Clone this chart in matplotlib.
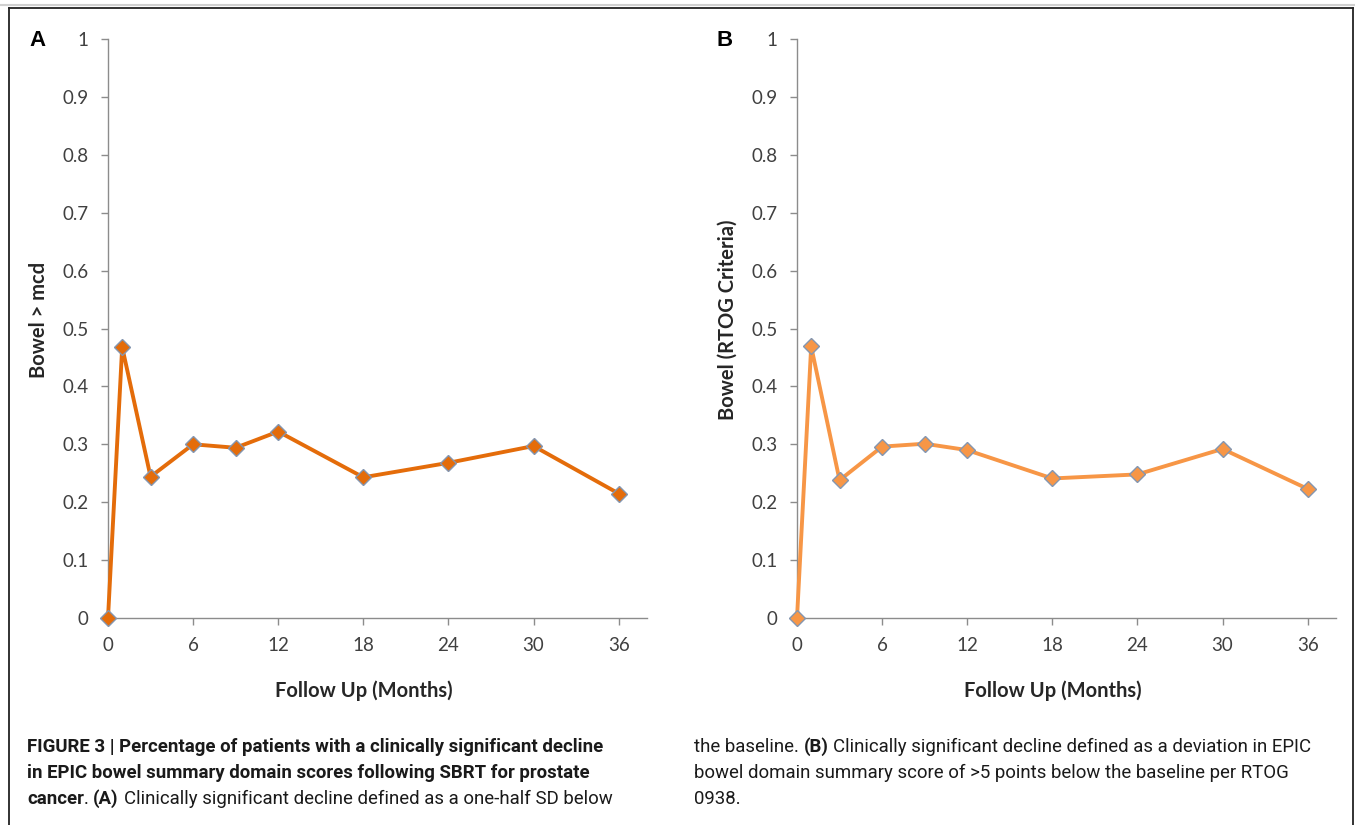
import numpy as np
import matplotlib
matplotlib.use("Agg")
import matplotlib.pyplot as plt
from matplotlib.lines import Line2D
from matplotlib.ticker import FuncFormatter
from matplotlib.transforms import blended_transform_factory

months = [0, 1, 3, 6, 9, 12, 18, 24, 30, 36]
bowel_mcd = [0.0, 0.468, 0.244, 0.300, 0.294, 0.322, 0.243, 0.268, 0.297, 0.215]
bowel_rtog = [0.0, 0.469, 0.238, 0.296, 0.301, 0.290, 0.241, 0.248, 0.292, 0.223]
x_ticks = [0, 6, 12, 18, 24, 30, 36]
y_ticks = [0, 0.1, 0.2, 0.3, 0.4, 0.5, 0.6, 0.7, 0.8, 0.9, 1.0]

panels = [
    ("A", "Bowel > mcd", bowel_mcd, "#E46C0A"),
    ("B", "Bowel (RTOG Criteria)", bowel_rtog, "#F79646"),
]

caption_left = [
    [("FIGURE 3 | Percentage of patients with a clinically significant decline", "bold")],
    [("in EPIC bowel summary domain scores following SBRT for prostate", "bold")],
    [("cancer", "bold"), (". ", "normal"), ("(A)", "bold"),
     (" Clinically significant decline defined as a one-half SD below", "normal")],
]
caption_right = [
    [("the baseline. ", "normal"), ("(B)", "bold"),
     (" Clinically significant decline defined as a deviation in EPIC", "normal")],
    [("bowel domain summary score of >5 points below the baseline per RTOG", "normal")],
    [("0938.", "normal")],
]

W, H = 1355, 825
fig = plt.figure(figsize=(W / 100, H / 100), dpi=100)
fig.patch.set_facecolor("white")

axis_font = ["Lato", "DejaVu Sans"]
cap_font = ["Roboto", "DejaVu Sans"]
grey = "#8c8c8c"

lefts = [108, 797]
letter_x = [38, 725]
for (letter, ylabel, vals, color), left, lx in zip(panels, lefts, letter_x):
    ax = fig.add_axes([left / W, 1 - 618 / H, 539 / W, 579 / H])
    ax.plot(months, vals, color=color, lw=2.8, marker="D", markersize=8.5,
            markerfacecolor=color, markeredgecolor="#8496b0", markeredgewidth=1.0,
            clip_on=False, zorder=3)
    ax.set_xlim(0, 38)
    ax.set_ylim(0, 1)
    ax.set_xticks(x_ticks)
    ax.set_yticks(y_ticks)
    ax.yaxis.set_major_formatter(FuncFormatter(lambda v, p: "%g" % round(v, 1)))
    for s in ["top", "right"]:
        ax.spines[s].set_visible(False)
    for s in ["left", "bottom"]:
        ax.spines[s].set_color(grey)
        ax.spines[s].set_linewidth(1.0)
    ax.tick_params(axis="both", color=grey, length=5, width=1.0, direction="out",
                   labelsize=13.5, labelcolor="#404040")
    ax.tick_params(axis="x", pad=9)
    ax.tick_params(axis="y", pad=9)
    for lab in ax.get_xticklabels() + ax.get_yticklabels():
        lab.set_family(axis_font)
    ax.set_xlabel("Follow Up (Months)", fontsize=14.5, fontweight="bold",
                  family=axis_font, color="#262626", va="center")
    ax.xaxis.set_label_coords((x_ticks[0] + x_ticks[-1]) / 2, -0.125,
                              transform=blended_transform_factory(ax.transData, ax.transAxes))
    ax.set_ylabel(ylabel, fontsize=14.5, fontweight="bold", family=axis_font,
                  color="#262626", va="center")
    ax.yaxis.set_label_coords(-0.128, 0.515)
    fig.text(lx / W, 1 - 40 / H, letter, fontsize=16, fontweight="bold",
             family=["Liberation Sans", "DejaVu Sans"], ha="center", va="center")

# frame round the figure
frame = dict(color="#222222", lw=1.3, transform=fig.transFigure)
fig.add_artist(Line2D([9 / W, 1353 / W], [1 - 7.5 / H, 1 - 7.5 / H], **frame))
fig.add_artist(Line2D([9 / W, 9 / W], [0, 1 - 7.5 / H], **frame))
fig.add_artist(Line2D([1353 / W, 1353 / W], [0, 1 - 7.5 / H], **frame))
fig.add_artist(Line2D([0, 1], [1 - 5 / H, 1 - 5 / H], color="#d0d0d0", lw=1.5,
                      transform=fig.transFigure))

renderer = fig.canvas.get_renderer()


def text_width(s, weight, size):
    t = fig.text(0, 0, s, fontsize=size, fontweight=weight, family=cap_font)
    w = t.get_window_extent(renderer).width
    t.remove()
    return w


def line_width(runs, size):
    total = 0
    for s, weight in runs:
        sp = text_width("a a", weight, size) - text_width("aa", weight, size)
        body = s.strip(" ")
        total += text_width(body, weight, size) + sp * (len(s) - len(body))
    return total


def draw_line(x0, y0, runs, size):
    x = x0
    for s, weight in runs:
        body = s.strip(" ")
        sp = text_width("a a", weight, size) - text_width("aa", weight, size)
        x += sp * (len(s) - len(s.lstrip(" ")))
        fig.text(x / W, 1 - y0 / H, body, fontsize=size, fontweight=weight,
                 family=cap_font, color="#1a1a1a", va="center", ha="left")
        x += text_width(body, weight, size)
        x += sp * (len(s) - len(s.rstrip(" ")))


size_left = 10 * 605 / line_width(caption_left[0], 10)
size_right = 10 * 588 / line_width(caption_right[0], 10)
cap_size = (size_left + size_right) / 2
for i, line in enumerate(caption_left):
    draw_line(27, 747 + 26 * i, line, cap_size)
for i, line in enumerate(caption_right):
    draw_line(694, 747 + 26 * i, line, cap_size)

fig.savefig("out.png", dpi=100, facecolor="white")
